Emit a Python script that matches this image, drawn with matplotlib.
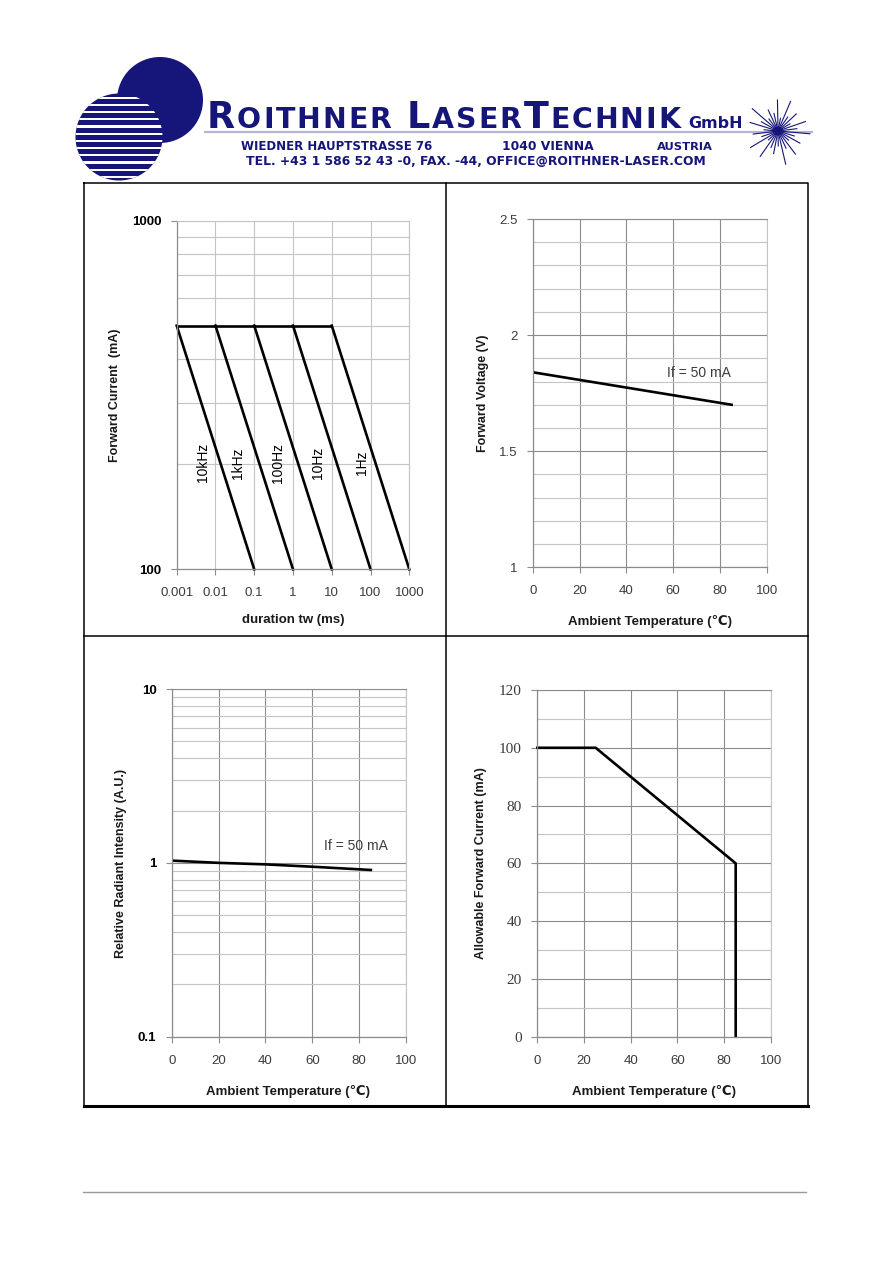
import numpy as np
import matplotlib
matplotlib.use("Agg")
import matplotlib.pyplot as plt
from matplotlib.patches import Circle, Rectangle
from matplotlib.ticker import NullFormatter, NullLocator

NAVY = '#16167a'
W, H = 892, 1261

# --- data ---
# pulse derating: each curve is flat at peak current until its knee, then falls to 100 mA
freq_labels = ['10kHz', '1kHz', '100Hz', '10Hz', '1Hz']
knee_ms = [0.001, 0.01, 0.1, 1, 10]
end_ms = [0.1, 1, 10, 100, 1000]
peak_ma = 500
floor_ma = 100

dur_ticks = [0.001, 0.01, 0.1, 1, 10, 100, 1000]
dur_ticklabels = ['0.001', '0.01', '0.1', '1', '10', '100', '1000']

temp_vf = [0, 85]
vf = [1.84, 1.70]

temp_ri = [0, 20, 40, 60, 85]
rel_int = [1.03, 1.00, 0.98, 0.95, 0.91]

temp_if = [0, 25, 85, 85]
if_allow = [100, 100, 60, 0]

temp_ticks = [0, 20, 40, 60, 80, 100]

fig = plt.figure(figsize=(W / 100, H / 100), dpi=100)
renderer = fig.canvas.get_renderer()

# background layer in pixel coordinates (y down)
bg = fig.add_axes([0, 0, 1, 1])
bg.set_xlim(0, W)
bg.set_ylim(H, 0)
bg.axis('off')


def px_axes(left, top, right, bottom):
    return fig.add_axes([left / W, 1 - bottom / H, (right - left) / W, (bottom - top) / H])


def fit_text(x0, x1, y, s, size=10):
    t = bg.text(x0, y, s, fontsize=size, fontweight='bold', color=NAVY,
                family='DejaVu Sans', ha='left', va='baseline')
    w = t.get_window_extent(renderer).width
    t.set_fontsize(size * (x1 - x0) / w)
    return t


# ---- header logo ----
bg.add_patch(Circle((160, 100), 43, color=NAVY, lw=0))
striped = Circle((119, 137), 43.5, color=NAVY, lw=0)
bg.add_patch(striped)
for yy in np.arange(96.5, 181, 7.2):
    r = Rectangle((70, yy), 100, 2.4, color='white', lw=0)
    bg.add_patch(r)
    r.set_clip_path(striped)

# big company name, small caps look
pieces = [('R', 26.3), ('OITHNER', 20.4), (' ', 20.4), ('L', 26.3), ('ASER', 20.4),
          ('T', 26.3), ('ECHNIK', 20.4)]
chars = []
for s, size in pieces:
    for ch in s:
        if ch == ' ':
            chars.append((None, 12))
            continue
        t = bg.text(0, 128.5, ch, fontsize=size, fontweight='bold', color=NAVY,
                    family='DejaVu Sans', ha='left', va='baseline')
        chars.append((t, t.get_window_extent(renderer).width))
natural = sum(w for _, w in chars)
track = (680 - 207 - natural) / (len(chars) - 1)
x = 207
for t, w in chars:
    if t is not None:
        t.set_x(x)
    x += w + track

fit_text(688, 742, 128.5, 'GmbH', 12)
bg.plot([205, 812], [132, 132], color='#b4b4dc', lw=1.6)
fit_text(241, 431, 150.5, 'WIEDNER HAUPTSTRASSE 76', 8)
fit_text(502, 594, 150.5, '1040 VIENNA', 8)
fit_text(657, 713, 150.5, 'AUSTRIA', 8)
fit_text(246, 706, 165, 'TEL. +43 1 586 52 43 -0, FAX. -44, OFFICE@ROITHNER-LASER.COM', 8)

# starburst
ray_len = [32, 17, 25, 14, 29, 19, 34, 15, 23, 18, 31, 13]
for i, ang in enumerate(np.arange(0, 360, 12)):
    L = ray_len[i % len(ray_len)]
    a = np.deg2rad(ang + 5)
    bg.plot([778, 778 + L * np.cos(a)], [131, 131 + L * np.sin(a)], color=NAVY, lw=0.8)
bg.add_patch(Circle((778, 131), 4.5, color=NAVY, lw=0))

# ---- table frame and footer ----
bg.plot([84, 808, 808, 84, 84], [183, 183, 1106, 1106, 183], color='black', lw=1.1)
bg.plot([84, 808], [1106, 1106], color='black', lw=2.2)
bg.plot([445.5, 445.5], [183, 1106], color='black', lw=1.1)
bg.plot([84, 808], [636, 636], color='black', lw=1.1)
bg.plot([83, 806], [1192, 1192], color='#9a9a9a', lw=1.0)

TICK_FONT = ['Liberation Sans', 'DejaVu Sans']
LABEL_FONT = ['Liberation Sans', 'DejaVu Sans']
DARK_GRID = '#8c8c8c'
LIGHT_GRID = '#c4c4c4'


def style(ax, top_col, right_col):
    ax.set_facecolor('white')
    for side in ('left', 'bottom'):
        ax.spines[side].set_color('#8c8c8c')
        ax.spines[side].set_linewidth(0.9)
    ax.spines['top'].set_color(top_col)
    ax.spines['right'].set_color(right_col)
    ax.spines['top'].set_linewidth(0.8)
    ax.spines['right'].set_linewidth(0.8)
    ax.tick_params(which='major', direction='out', length=4, width=0.8, color='#8c8c8c',
                   labelcolor='#3c3c3c', labelsize=9.5)
    ax.tick_params(axis='x', which='major', pad=9)
    ax.tick_params(axis='y', which='major', pad=7)
    ax.tick_params(which='minor', length=0)
    ax.set_axisbelow(True)
    for lbl in ax.get_xticklabels() + ax.get_yticklabels():
        lbl.set_family(TICK_FONT)


def labels(ax, xl, xy, yl, yy):
    # positions given in page pixels
    bg.text(xy[0], xy[1], xl, ha='center', va='center', fontsize=9.5, fontweight='bold',
            family=LABEL_FONT, color='#1a1a1a')
    bg.text(yy[0], yy[1], yl, ha='center', va='center', rotation=90, fontsize=9,
            fontweight='bold', family=LABEL_FONT, color='#1a1a1a')


# ---- chart 1: pulse current vs duration ----
ax1 = px_axes(176.7, 220.7, 409.3, 569.3)
ax1.set_xscale('log')
ax1.set_yscale('log')
ax1.set_xlim(0.001, 1000)
ax1.set_ylim(100, 1000)
ax1.plot([knee_ms[0], knee_ms[-1]], [peak_ma, peak_ma], color='black', lw=1.9,
         solid_capstyle='butt')
for k, e in zip(knee_ms, end_ms):
    ax1.plot([k, e], [peak_ma, floor_ma], color='black', lw=1.9, clip_on=False)
ax1.set_xticks(dur_ticks)
ax1.set_xticklabels(dur_ticklabels)
ax1.xaxis.set_minor_locator(NullLocator())
ax1.set_yticks([100, 1000])
ax1.set_yticklabels(['100', '1000'])
ax1.set_yticks([200, 300, 400, 500, 600, 700, 800, 900], minor=True)
ax1.yaxis.set_minor_formatter(NullFormatter())
ax1.xaxis.grid(True, which='major', color=LIGHT_GRID, lw=0.8)
ax1.yaxis.grid(True, which='major', color=LIGHT_GRID, lw=0.8)
ax1.yaxis.grid(True, which='minor', color=LIGHT_GRID, lw=0.8)
style(ax1, LIGHT_GRID, LIGHT_GRID)
for lbl in ax1.get_yticklabels():
    lbl.set_fontweight('bold')
    lbl.set_color('black')
freq_label_x = [0.0048, 0.038, 0.41, 4.4, 60]
for lab, fx in zip(freq_labels, freq_label_x):
    ax1.text(fx, 202, lab, rotation=90, ha='center', va='center', fontsize=10,
             family=TICK_FONT, color='black')
labels(ax1, 'duration tw (ms)', (293, 620), 'Forward Current  (mA)', (115, 395))

# ---- chart 2: forward voltage vs temperature ----
ax2 = px_axes(532.7, 219, 766.7, 567.3)
ax2.set_xlim(0, 100)
ax2.set_ylim(1, 2.5)
ax2.plot(temp_vf, vf, color='black', lw=1.9)
ax2.set_xticks(temp_ticks)
ax2.set_yticks([1, 1.5, 2, 2.5])
ax2.set_yticklabels(['1', '1.5', '2', '2.5'])
ax2.set_yticks(np.arange(1.1, 2.5, 0.1), minor=True)
ax2.xaxis.grid(True, which='major', color=DARK_GRID, lw=0.8)
ax2.yaxis.grid(True, which='major', color=DARK_GRID, lw=0.8)
ax2.yaxis.grid(True, which='minor', color=LIGHT_GRID, lw=0.8)
style(ax2, DARK_GRID, LIGHT_GRID)
ax2.text(57.5, 1.835, 'If = 50 mA', ha='left', va='center', fontsize=10,
         family=TICK_FONT, color='#3c3c3c')
labels(ax2, 'Ambient Temperature (\u2103)', (650, 621), 'Forward Voltage (V)', (483, 393))

# ---- chart 3: relative radiant intensity vs temperature ----
ax3 = px_axes(171.7, 689, 406, 1036.7)
ax3.set_yscale('log')
ax3.set_xlim(0, 100)
ax3.set_ylim(0.1, 10)
ax3.plot(temp_ri, rel_int, color='black', lw=1.9)
ax3.set_xticks(temp_ticks)
ax3.set_yticks([0.1, 1, 10])
ax3.set_yticklabels(['0.1', '1', '10'])
ax3.set_yticks([m * d for d in (0.1, 1) for m in range(2, 10)], minor=True)
ax3.yaxis.set_minor_formatter(NullFormatter())
ax3.xaxis.grid(True, which='major', color=DARK_GRID, lw=0.8)
ax3.yaxis.grid(True, which='major', color=DARK_GRID, lw=0.8)
ax3.yaxis.grid(True, which='minor', color=LIGHT_GRID, lw=0.8)
style(ax3, DARK_GRID, LIGHT_GRID)
for lbl in ax3.get_yticklabels():
    lbl.set_fontweight('bold')
    lbl.set_color('black')
ax3.text(65, 1.25, 'If = 50 mA', ha='left', va='center', fontsize=10,
         family=TICK_FONT, color='#3c3c3c')
labels(ax3, 'Ambient Temperature (\u2103)', (288, 1091),
       'Relative Radiant Intensity (A.U.)', (121, 863))

# ---- chart 4: allowable forward current vs temperature ----
ax4 = px_axes(537.3, 690, 770.7, 1036.7)
ax4.set_xlim(0, 100)
ax4.set_ylim(0, 120)
ax4.plot(temp_if, if_allow, color='black', lw=1.9, clip_on=False)
ax4.set_xticks(temp_ticks)
ax4.set_yticks(np.arange(0, 121, 20))
ax4.set_yticks(np.arange(10, 120, 20), minor=True)
ax4.xaxis.grid(True, which='major', color=DARK_GRID, lw=0.8)
ax4.yaxis.grid(True, which='major', color=DARK_GRID, lw=0.8)
ax4.yaxis.grid(True, which='minor', color=LIGHT_GRID, lw=0.8)
style(ax4, DARK_GRID, LIGHT_GRID)
for lbl in ax4.get_yticklabels():
    lbl.set_family(['Liberation Serif', 'DejaVu Serif'])
    lbl.set_fontsize(11)
labels(ax4, 'Ambient Temperature (\u2103)', (654, 1091),
       'Allowable Forward Current (mA)', (481, 863))

fig.savefig('out.png', dpi=100)
